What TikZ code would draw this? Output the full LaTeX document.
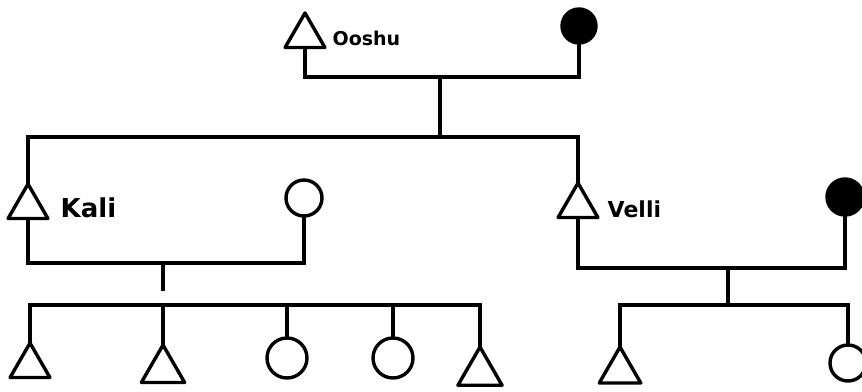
\documentclass[tikz,border=0pt]{standalone}
\usepackage{fontspec}
\setsansfont{DejaVu Sans}
\usetikzlibrary{shapes.geometric}
\tikzset{
	male/.style = {
		regular polygon,
		regular polygon sides=3,
		draw,
		inner sep=0pt,
		outer sep=0pt,
		minimum size=46pt,
		anchor=north,
		line join=round
	},
	female/.style = {
		circle,
		draw,
		inner sep=0pt,
		outer sep=0pt,
		minimum size=36pt
	},
	dead/.style = {female, fill=black},
	name label/.style = {
		font=\sffamily\bfseries,
		anchor=west,
		inner sep=0pt
	}
}

\begin{document}
\begin{tikzpicture}[x=1pt, y=-1pt, line width=3.4pt]
				\useasboundingbox (0,0) rectangle (862,391);
				\node[male] (ooshu) at (305,13) {};
				\node[dead, minimum size=34pt] (ooshuW) at (579,26) {};
				\node[name label, font=\sffamily\bfseries\fontsize{19}{19}\selectfont] (ooshuL) at (331,38) {Ooshu};
				\coordinate (top) at (440,77);
				\coordinate (gen) at (440,137);
				\draw (ooshu.south) |- (top) -| (ooshuW.south);
				\draw (top) -- (gen);
				\node[male] (kali) at (28,184) {};
				\node[female] (kaliW) at (304,198) {};
				\node[name label, font=\sffamily\bfseries\fontsize{26}{26}\selectfont] (kaliL) at (59,208) {Kali};
				\node[male] (velli) at (578,183) {};
				\node[dead] (velliW) at (845,197) {};
				\node[name label, font=\sffamily\bfseries\fontsize{22}{22}\selectfont] (velliL) at (606,209) {Velli};
				\draw (kali.north) |- (gen) -| (velli.north);
				\coordinate (kaliM) at (163,263);
				\coordinate (kaliD) at (163,291);
				\coordinate (kaliS) at (163,305);
				\draw (kali.south) |- (kaliM) -| (kaliW.south);
				\draw (kaliM) -- (kaliD);
				\node[male, minimum size=46pt] (kc1) at (30,343) {};
				\node[male, minimum size=50pt] (kc2) at (163,345) {};
				\node[female, minimum size=40pt] (kc3) at (287,358) {};
				\node[female, minimum size=40pt] (kc4) at (393,358) {};
				\node[male, minimum size=51pt] (kc5) at (480,347) {};
				\draw (kc1.north) |- (kaliS) -| (kc5.north);
				\foreach \c in {kc2,kc3,kc4}
					\draw (\c.north) -- (\c.north |- kaliS);
				\coordinate (velliM) at (728,268);
				\coordinate (velliS) at (728,305);
				\draw (velli.south) |- (velliM) -| (velliW.south);
				\draw (velliM) -- (velliS);
				\node[male, minimum size=48pt] (vc1) at (620,347) {};
				\node[female] (vc2) at (848,363) {};
				\draw (vc1.north) |- (velliS) -| (vc2.north);
			\end{tikzpicture}
\end{document}
